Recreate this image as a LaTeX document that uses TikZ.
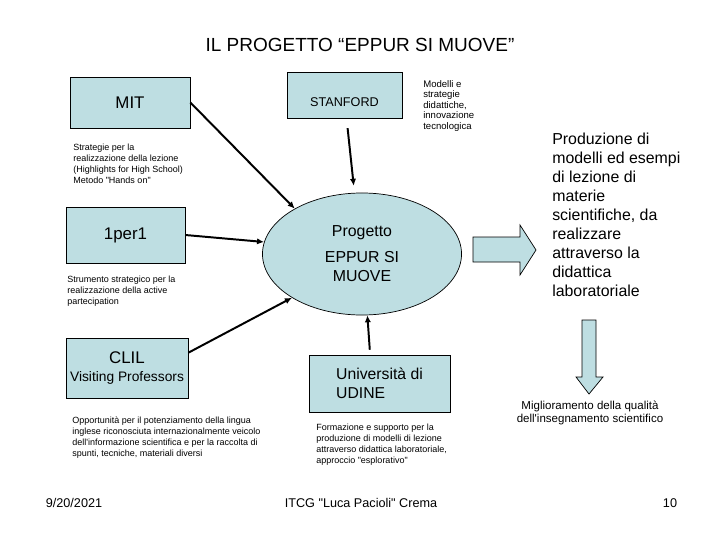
\documentclass[tikz,border=0pt]{standalone}
\usepackage{fontspec}
\setmainfont{Liberation Sans}
\usepackage{tikz}
\usetikzlibrary{positioning,arrows.meta,shapes.geometric}
\definecolor{boxblue}{RGB}{190,222,226}

\begin{document}
\begin{tikzpicture}[x=0.025cm,y=-0.025cm,
	box/.style={draw=black,fill=boxblue,line width=0.5pt,inner sep=0pt},
	note/.style={anchor=north west,align=left,inner sep=0pt,font=\fontsize{6.4}{7.7}\selectfont},
	link/.style={line width=1.4pt,-{Latex[length=5pt,width=4.5pt]}},
	bigarrow/.style={draw=black,fill=boxblue,line width=0.5pt}]

		\useasboundingbox (0,0) rectangle (720,540);

		%title
		\node (title) at (360,45) {\fontsize{13.5}{16}\selectfont IL PROGETTO “EPPUR SI MUOVE”};

		%left boxes
		\node[box,minimum width=3cm,minimum height=1.275cm,font=\fontsize{12}{14}\selectfont] (mit) at (130,102.5) {MIT};
		\node[box,minimum width=2.975cm,minimum height=1.4cm,font=\fontsize{12}{14}\selectfont] (uno) at (125.5,235) {1per1};
		\node[box,minimum width=3.05cm,minimum height=1.5cm,align=center] (clil) at (127,368)
			{{\fontsize{12}{14}\selectfont CLIL}\\[1pt]{\fontsize{9.8}{12}\selectfont Visiting Professors}};

		%middle
		\node[box,minimum width=2.875cm,minimum height=1.15cm,text height=16pt,text depth=0pt,font=\fontsize{9}{11}\selectfont] (stanford) at (344.5,95) {STANFORD};
		\node[box,ellipse,minimum width=4.975cm,minimum height=3.05cm,align=center,font=\fontsize{11.3}{13.5}\selectfont] (progetto) at (362,254)
			{Progetto\\[5pt]EPPUR SI\\MUOVE};
		\node[box,minimum width=3.525cm,minimum height=1.425cm,align=left,font=\fontsize{11.2}{13.5}\selectfont] (udine) at (379.5,383.5)
			{Università di\\UDINE};

		%notes
		\node[note] (tmit) at (73,144) {Strategie per la\\realizzazione della lezione\\(Highlights for High School)\\Metodo \textquotedbl Hands on\textquotedbl};
		\node[note,font=\fontsize{6.8}{7.5}\selectfont] (tstanford) at (423,80) {Modelli e\\strategie\\didattiche,\\innovazione\\tecnologica};
		\node[note] (tuno) at (67,276) {Strumento strategico per la\\realizzazione della active\\partecipation};
		\node[note] (tclil) at (72,417) {Opportunità per il potenziamento della lingua\\inglese riconosciuta internazionalmente veicolo\\dell\textquotesingle informazione scientifica e per la raccolta di\\spunti, tecniche, materiali diversi};
		\node[note] (tudine) at (316,424) {Formazione e supporto per la\\produzione di modelli di lezione\\attraverso didattica laboratoriale,\\approccio \textquotedbl esplorativo\textquotedbl};

		%right side
		\draw[bigarrow] (473,237) -- (520,237) -- (520,225) -- (536,250) -- (520,275) -- (520,262) -- (473,262) -- cycle;
		\node[note,font=\fontsize{11.3}{13.5}\selectfont] (tprod) at (552,133)
			{Produzione di\\modelli ed esempi\\di lezione di\\materie\\scientifiche, da\\realizzare\\attraverso la\\didattica\\laboratoriale};
		\draw[bigarrow] (582,320) -- (596,320) -- (596,377) -- (603,377) -- (589,394) -- (576,377) -- (582,377) -- cycle;
		\node[note,anchor=north,align=center,font=\fontsize{8.2}{9.3}\selectfont] (tmigl) at (590,401)
			{Miglioramento della qualità\\dell\textquotesingle insegnamento scientifico};

		%arrows
		\draw[link] (mit.east) -- (progetto.146);
		\draw[link,shorten <=7pt,shorten >=5pt] (stanford.-85) -- (progetto.97);
		\draw[link] (uno.east) -- (progetto.173);
		\draw[link] (clil.14) -- (progetto.212);
		\draw[link,shorten <=3.5pt] (udine.108) -- (progetto.-85);

		%footer
		\node[font=\fontsize{9}{11}\selectfont] (date) at (74,503) {9/20/2021};
		\node[font=\fontsize{9}{11}\selectfont] (school) at (361,503) {ITCG \textquotedbl Luca Pacioli\textquotedbl\ Crema};
		\node[font=\fontsize{9}{11}\selectfont] (page) at (670,503) {10};

\end{tikzpicture}
\end{document}
